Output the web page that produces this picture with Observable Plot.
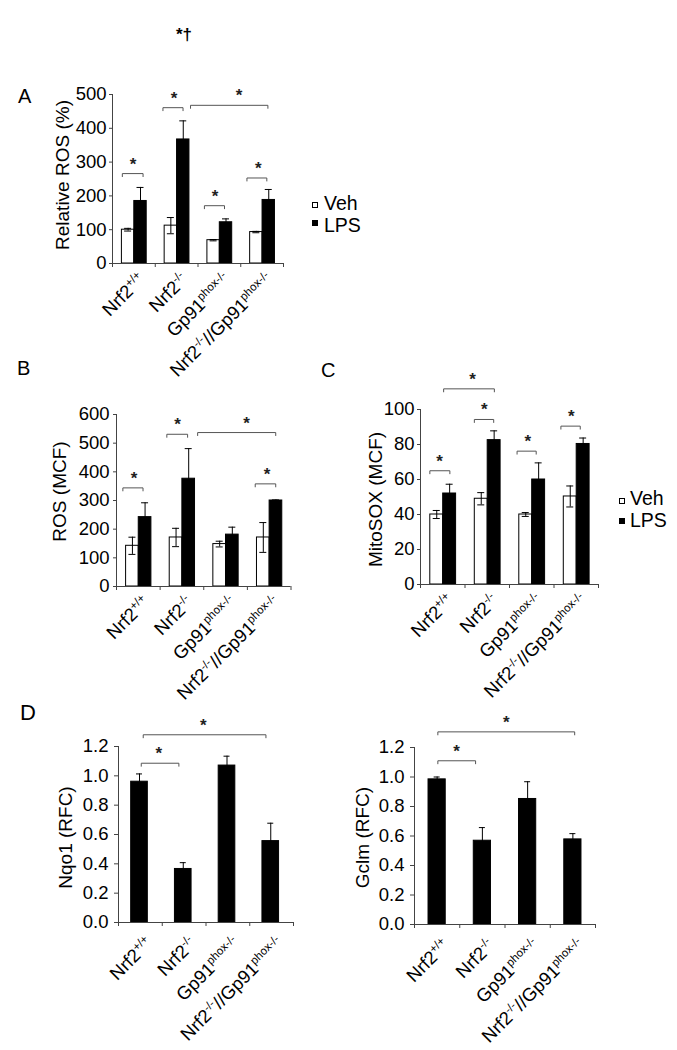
<!DOCTYPE html>
<html><head><meta charset="utf-8">
<script src="https://cdn.jsdelivr.net/npm/d3@7"></script>
<script src="https://cdn.jsdelivr.net/npm/@observablehq/plot@0.6"></script>
<style>
body{margin:0;background:#fff;}
#fig{position:relative;width:677px;height:1050px;font-family:"Liberation Sans",Arial,Helvetica,sans-serif;color:#000;overflow:hidden;background:#fff}
.abs{position:absolute;white-space:nowrap}
.letter{font-size:20px;line-height:20px}
.leg{font-size:19.5px;line-height:20px}
.sq{position:absolute;width:4px;height:4px;border:1px solid #000}
</style></head><body><div id="fig"></div>
<script>
// ---------- data ----------
const groups = ["Nrf2^{+/+}", "Nrf2^{-/-}", "Gp91^{phox-/-}", "Nrf2^{-/-}//Gp91^{phox-/-}"];
const seriesNames = ["Veh", "LPS"];

// Panel A: Relative ROS (%)
const aVeh = [100, 112, 69, 93];
const aVehSE = [4, 24, 2, 2];
const aLPS = [185, 367, 122, 188];
const aLPSSE = [40, 55, 10, 31];
const aTicks = [0, 100, 200, 300, 400, 500];
const aBrFrom = [0.23, 1.18, 1.825, 2.15, 3.145];
const aBrTo = [0.715, 1.65, 3.635, 2.62, 3.61];
const aBrLevel = [266, 461, 468, 171, 253];
const aStarX = [0.48, 1.44, 2.96, 2.40, 3.41];

// Panel B: ROS (MCF)
const bVeh = [142, 171, 148, 171];
const bVehSE = [30, 32, 10, 52];
const bLPS = [242, 376, 181, 300];
const bLPSSE = [50, 105, 26, 2];
const bTicks = [0, 100, 200, 300, 400, 500, 600];
const bBrFrom = [0.146, 1.154, 1.86, 3.18];
const bBrTo = [0.608, 1.63, 3.65, 3.65];
const bBrLevel = [344, 531, 537, 358];
const bStarX = [0.40, 1.40, 2.98, 3.45];

// Panel C: MitoSOX (MCF)
const cVeh = [40, 49, 40, 50.3];
const cVehSE = [2.3, 3.5, 1.1, 6];
const cLPS = [52, 82.5, 60, 80.3];
const cLPSSE = [5.3, 5.3, 9.5, 3.4];
const cTicks = [0, 20, 40, 60, 80, 100];
const cBrFrom = [0.21, 1.21, 2.17, 3.155, 0.52];
const cBrTo = [0.66, 1.645, 2.60, 3.59, 1.66];
const cBrLevel = [65, 94.3, 76.2, 90.5, 111.8];
const cStarX = [0.43, 1.435, 2.41, 3.39, 1.17];

// Panel D: Nqo1 (RFC) and Gclm (RFC)
const dNqo1 = [0.96, 0.365, 1.07, 0.555];
const dNqo1SE = [0.053, 0.043, 0.064, 0.122];
const dGclm = [0.984, 0.568, 0.851, 0.577];
const dGclmSE = [0.016, 0.089, 0.117, 0.039];
const dTicks = [0, 0.2, 0.4, 0.6, 0.8, 1.0, 1.2];
const dlBrFrom = [0.52, 0.565];
const dlBrTo = [1.38, 3.37];
const dlBrLevel = [1.086, 1.28];
const dlStarX = [0.92, 1.94];
const drBrFrom = [0.516, 0.516];
const drBrTo = [1.35, 3.54];
const drBrLevel = [1.11, 1.306];
const drStarX = [0.93, 2.03];

// ---------- drawing ----------
const FONT = '"Liberation Sans", Arial, Helvetica, sans-serif';
const fig = document.getElementById("fig");
const plain = s => s.replace(/\^\{([^}]*)\}/g, "$1");
function supParts(label) {
  const parts = []; const re = /\^\{([^}]*)\}/g; let last = 0, m;
  while ((m = re.exec(label))) {
    if (m.index > last) parts.push({t: label.slice(last, m.index), sup: false});
    parts.push({t: m[1], sup: true}); last = re.lastIndex;
  }
  if (last < label.length) parts.push({t: label.slice(last), sup: false});
  return parts;
}

function makePanel(p) {
  const mL = 115, mR = 25, mT = 75, mB = 150;
  const fw = p.x1 - p.x0, fh = p.y0 - p.yTop;
  const W = mL + fw + mR, H = mT + fh + mB;
  const unitPx = fw / 4;
  const cap = p.capPx / unitPx;
  const tickD = 3 / (fh / p.ymax);
  const marks = [];
  p.series.forEach(s => {
    const bars = s.values.map((v, i) => ({a: i + s.off[0], b: i + s.off[1], v, se: s.se[i], c: i + (s.off[0] + s.off[1]) / 2}));
    marks.push(Plot.rect(bars, {x1: "a", x2: "b", y1: () => 0, y2: "v", fill: s.fill, stroke: "#000", strokeWidth: 1}));
    marks.push(Plot.ruleX(bars, {x: "c", y1: d => d.v - d.se, y2: d => d.v + d.se, stroke: "#000", strokeWidth: 1}));
    marks.push(Plot.ruleY(bars, {y: d => d.v + d.se, x1: d => d.c - cap, x2: d => d.c + cap, stroke: "#000", strokeWidth: 1}));
    marks.push(Plot.ruleY(bars, {y: d => d.v - d.se, x1: d => d.c - cap, x2: d => d.c + cap, stroke: "#000", strokeWidth: 1}));
  });
  const brPts = [];
  p.br.from.forEach((f, k) => {
    const t = p.br.to[k], L = p.br.level[k];
    brPts.push({id: k, x: f, y: L - tickD}, {id: k, x: f, y: L}, {id: k, x: t, y: L}, {id: k, x: t, y: L - tickD});
  });
  const stars = p.br.star.map((s, k) => ({x: s, y: p.br.level[k]}));
  marks.push(
    Plot.ruleX([0], {y1: () => 0, y2: () => p.ymax, stroke: "#444"}),
    Plot.ruleY([0], {x1: () => 0, x2: () => 4, stroke: "#444"}),
    Plot.axisY({ticks: p.ticks, tickFormat: p.fmt, tickSize: p.tickSize, tickPadding: p.tickPad, label: null, fontSize: 18.5, stroke: "#444", fill: "#000"}),
    Plot.axisX({ticks: [0, 1, 2, 3, 4], tickFormat: () => "", tickSize: 4, label: null, stroke: "#444"}),
    Plot.text(groups, {x: (d, i) => i + 0.5, y: () => 0, text: d => plain(d), rotate: -45, textAnchor: "end", lineAnchor: "top", dx: p.labDx, dy: p.labDy, fontSize: 18.5, fill: "#000"}),
    Plot.text([p.title], {frameAnchor: "left", rotate: -90, dx: p.tdx, dy: p.tdy, fontSize: 19, fill: "#000", textAnchor: "middle", lineAnchor: "middle", text: d => d}),
    Plot.line(brPts, {x: "x", y: "y", z: "id", stroke: "#555", strokeWidth: 1}),
    Plot.text(stars, {x: "x", y: "y", text: () => "*", fontSize: 17, fontWeight: "bold", fill: "#222", lineAnchor: "bottom", dy: -4})
  );
  const svg = Plot.plot({
    width: W, height: H, marginLeft: mL, marginRight: mR, marginTop: mT, marginBottom: mB,
    style: {fontFamily: FONT, fontSize: "18.5px", color: "#000", background: "transparent", overflow: "visible"},
    x: {domain: [0, 4], axis: null},
    y: {domain: [0, p.ymax], axis: null},
    marks
  });
  // rich text (superscripts) for the rotated category labels
  const plains = groups.map(plain);
  svg.querySelectorAll("text").forEach(el => {
    const tr = el.getAttribute("transform") || "";
    const k = plains.indexOf(el.textContent);
    if (k < 0 || !tr.includes("rotate(-45")) return;
    const t = d3.select(el); t.text(null);
    let up = false;
    supParts(groups[k]).forEach(pt => {
      const ts = t.append("tspan").text(pt.t);
      if (pt.sup) { ts.attr("font-size", 11.5).attr("dy", -7); up = true; }
      else if (up) { ts.attr("dy", 7); up = false; }
    });
  });
  svg.style.position = "absolute";
  svg.style.left = (p.x0 - mL) + "px";
  svg.style.top = (p.yTop - mT) + "px";
  fig.appendChild(svg);
}

const twoSeries = (veh, vehSE, lps, lpsSE) => [
  {values: veh, se: vehSE, fill: "white", off: [0.22, 0.51]},
  {values: lps, se: lpsSE, fill: "black", off: [0.51, 0.80]}
];
const intFmt = d3.format("d");
const decFmt = d3.format(".1f");

makePanel({x0: 112, x1: 283, y0: 263, yTop: 94, ymax: 500, ticks: aTicks, fmt: intFmt, tickSize: 3, tickPad: 3,
  title: "Relative ROS (%)", tdx: -50, tdy: -4, labDx: 3, labDy: 8, capPx: 3.5,
  series: twoSeries(aVeh, aVehSE, aLPS, aLPSSE), br: {from: aBrFrom, to: aBrTo, level: aBrLevel, star: aStarX}});
makePanel({x0: 115.5, x1: 290, y0: 586, yTop: 414, ymax: 600, ticks: bTicks, fmt: intFmt, tickSize: 3, tickPad: 4,
  title: "ROS (MCF)", tdx: -56.5, tdy: -9, labDx: 3, labDy: 8, capPx: 3.5,
  series: twoSeries(bVeh, bVehSE, bLPS, bLPSSE), br: {from: bBrFrom, to: bBrTo, level: bBrLevel, star: bStarX}});
makePanel({x0: 420, x1: 598, y0: 584, yTop: 409, ymax: 100, ticks: cTicks, fmt: intFmt, tickSize: 3, tickPad: 3,
  title: "MitoSOX (MCF)", tdx: -45, tdy: 2.5, labDx: 3, labDy: 8, capPx: 3.5,
  series: twoSeries(cVeh, cVehSE, cLPS, cLPSSE), br: {from: cBrFrom, to: cBrTo, level: cBrLevel, star: cStarX}});
makePanel({x0: 118, x1: 293, y0: 922, yTop: 746, ymax: 1.2, ticks: dTicks, fmt: decFmt, tickSize: 4, tickPad: 6,
  title: "Nqo1 (RFC)", tdx: -53, tdy: 3, labDx: 4, labDy: 13, capPx: 3,
  series: [{values: dNqo1, se: dNqo1SE, fill: "black", off: [0.29, 0.67]}],
  br: {from: dlBrFrom, to: dlBrTo, level: dlBrLevel, star: dlStarX}});
makePanel({x0: 414, x1: 595, y0: 924, yTop: 747, ymax: 1.2, ticks: dTicks, fmt: decFmt, tickSize: 4, tickPad: 6,
  title: "Gclm (RFC)", tdx: -52, tdy: 1.5, labDx: 4, labDy: 13, capPx: 3,
  series: [{values: dGclm, se: dGclmSE, fill: "black", off: [0.31, 0.69]}],
  br: {from: drBrFrom, to: drBrTo, level: drBrLevel, star: drStarX}});

// ---------- text annotations ----------
function addText(txt, left, top, cls, extra) {
  const d = document.createElement("div");
  d.className = "abs " + cls; d.textContent = txt;
  d.style.left = left + "px"; d.style.top = top + "px";
  if (extra) Object.assign(d.style, extra);
  fig.appendChild(d);
}
function addSq(left, top, fill) {
  const d = document.createElement("div");
  d.className = "sq"; d.style.left = left + "px"; d.style.top = top + "px"; d.style.background = fill;
  fig.appendChild(d);
}
addText("A", 18, 86, "letter");
addText("B", 17, 358, "letter");
addText("C", 321, 359.5, "letter");
addText("D", 20, 701.5, "letter", {fontSize: "22px", lineHeight: "22px"});
addText("*\u2020", 176, 24.5, "", {fontSize: "17px", lineHeight: "19px", fontWeight: "bold"});
// legends
addSq(312, 202, "white"); addText(seriesNames[0], 324, 193.2, "leg");
addSq(312, 220, "black"); addText(seriesNames[1], 324, 214.7, "leg");
addSq(619, 497.5, "white"); addText(seriesNames[0], 630, 488.2, "leg");
addSq(619, 518, "black"); addText(seriesNames[1], 630, 510.2, "leg");
</script></body></html>
